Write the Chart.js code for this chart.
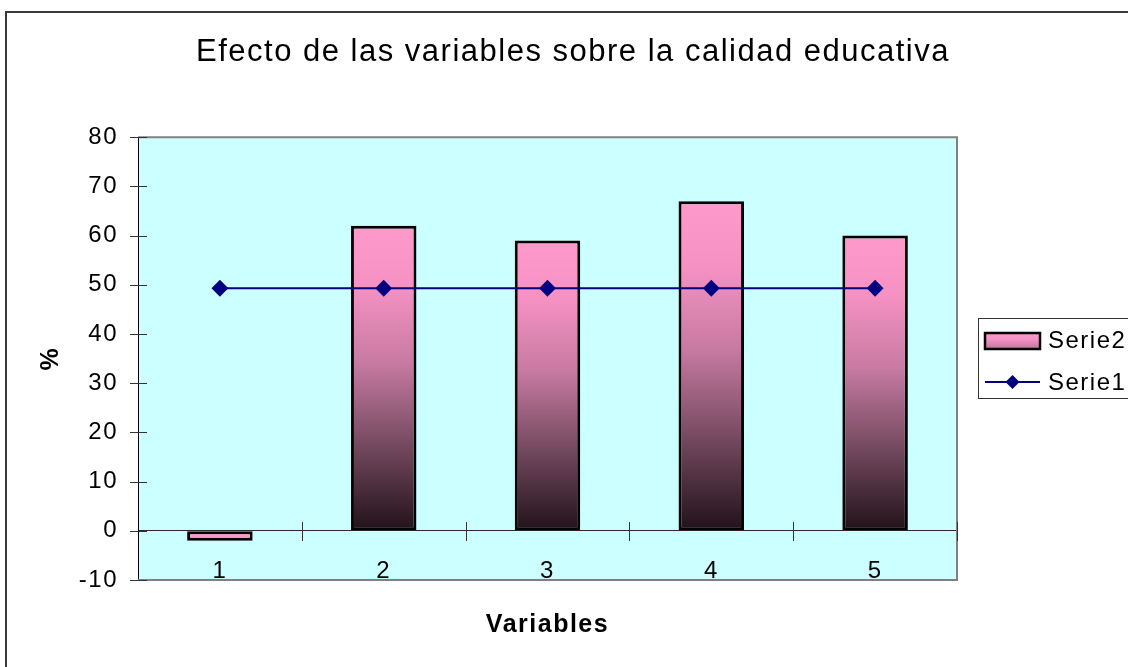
<!DOCTYPE html>
<html>
<head>
<meta charset="utf-8">
<title>Efecto de las variables sobre la calidad educativa</title>
<script src="https://cdn.jsdelivr.net/npm/chart.js@4.4.1/dist/chart.umd.min.js"></script>
<style>
  html, body { margin: 0; padding: 0; background: #fff; }
  #wrap { width: 1128px; height: 667px; }
</style>
</head>
<body>
<div id="wrap"><canvas id="chart" width="1128" height="667"></canvas></div>
<script>
// Datos
const categorias = ["1", "2", "3", "4", "5"];
const serie2 = [-2, 62, 59, 67, 60];
const serie1 = [49.3, 49.3, 49.3, 49.3, 49.3];
const rangoY = [-10, 80];
const pasoY = 10;

// Colores y fuente
const FONT = "'Liberation Sans', Arial, sans-serif";
const PINK = "#FF99CC";
const NAVY = "#000080";
const PLOT_BG = "#CCFFFF";
const PLOT_EDGE = "#808080";

// Degradado rosa -> casi negro de las barras
function barGradient(ctx, top, bottom) {
  const g = ctx.createLinearGradient(0, top, 0, bottom);
  g.addColorStop(0, "#FF99CC");
  g.addColorStop(0.2, "#F592C3");
  g.addColorStop(0.45, "#C77AA2");
  g.addColorStop(0.7, "#7A4D64");
  g.addColorStop(1, "#211219");
  return g;
}

// Marco exterior, fondo del área de trazado, marcas de escala y leyenda
const excelLook = {
  id: "excelLook",
  beforeDraw(chart) {
    const { ctx, chartArea: a } = chart;
    ctx.save();
    ctx.fillStyle = "#fff";
    ctx.fillRect(0, 0, chart.width, chart.height);
    ctx.strokeStyle = "#3a3a3a";
    ctx.lineWidth = 2;
    ctx.strokeRect(6, 12, 1400, 1000);
    ctx.fillStyle = PLOT_BG;
    ctx.fillRect(a.left, a.top, a.right - a.left, a.bottom - a.top);
    ctx.restore();
    ctx.letterSpacing = "1.5px";
  },
  afterDraw(chart) {
    const { ctx, chartArea: a, scales } = chart;
    ctx.save();
    // borde gris (arriba, derecha, abajo)
    ctx.strokeStyle = PLOT_EDGE;
    ctx.lineWidth = 2;
    ctx.beginPath();
    ctx.moveTo(a.left, a.top);
    ctx.lineTo(a.right, a.top);
    ctx.lineTo(a.right, a.bottom);
    ctx.lineTo(a.left, a.bottom);
    ctx.stroke();

    // marcas cruzadas
    ctx.strokeStyle = "#333";
    ctx.lineWidth = 1;
    ctx.beginPath();
    scales.y.ticks.forEach((t) => {
      const py = Math.round(scales.y.getPixelForValue(t.value)) + 0.5;
      ctx.moveTo(a.left - 8, py);
      ctx.lineTo(a.left + 9, py);
    });
    const y0 = Math.round(scales.y.getPixelForValue(0));
    for (let i = 1; i <= categorias.length; i++) {
      const px = Math.round(scales.x.getPixelForValue(i - 0.5)) + 0.5;
      ctx.moveTo(px, y0 - 9);
      ctx.lineTo(px, y0 + 10);
    }
    ctx.stroke();

    // leyenda
    const ds = chart.data.datasets;
    ctx.strokeStyle = "#333";
    ctx.lineWidth = 1;
    ctx.fillStyle = "#fff";
    ctx.fillRect(978.5, 318.5, 200, 80);
    ctx.strokeRect(978.5, 318.5, 200, 80);

    ctx.fillStyle = barGradient(ctx, 333, 365);
    ctx.fillRect(985, 333, 55, 16);
    ctx.strokeStyle = "#000";
    ctx.lineWidth = 2.5;
    ctx.strokeRect(985, 333, 55, 16);

    ctx.strokeStyle = NAVY;
    ctx.lineWidth = 2;
    ctx.beginPath();
    ctx.moveTo(985, 382);
    ctx.lineTo(1040, 382);
    ctx.stroke();
    ctx.fillStyle = NAVY;
    ctx.beginPath();
    ctx.moveTo(1012.5, 375);
    ctx.lineTo(1019.5, 382);
    ctx.lineTo(1012.5, 389);
    ctx.lineTo(1005.5, 382);
    ctx.closePath();
    ctx.fill();

    ctx.fillStyle = "#000";
    ctx.font = "24px " + FONT;
    ctx.textBaseline = "middle";
    ctx.textAlign = "left";
    ctx.fillText(ds[1].label, 1048, 341);
    ctx.fillText(ds[0].label, 1048, 383);
    ctx.restore();
    ctx.letterSpacing = "0px";
  }
};

const ctx = document.getElementById("chart").getContext("2d");

new Chart(ctx, {
  type: "bar",
  data: {
    labels: categorias,
    datasets: [
      {
        type: "line",
        label: "Serie1",
        data: serie1,
        order: 0,
        borderColor: NAVY,
        borderWidth: 2,
        tension: 0,
        fill: false,
        pointStyle: "rectRot",
        pointRadius: 7,
        pointHoverRadius: 7,
        pointBackgroundColor: NAVY,
        pointBorderColor: NAVY
      },
      {
        type: "bar",
        label: "Serie2",
        data: serie2,
        order: 1,
        backgroundColor: (c) => {
          const chart = c.chart;
          if (!chart.chartArea || c.type !== "data") return PINK;
          const y = chart.scales.y;
          const v = c.raw;
          const top = y.getPixelForValue(Math.max(v, 0));
          const bottom = y.getPixelForValue(Math.min(v, 0));
          return barGradient(chart.ctx, top, Math.max(bottom, top + 50));
        },
        borderColor: "#000",
        borderWidth: 3,
        borderSkipped: false,
        barPercentage: 0.4,
        categoryPercentage: 1.0
      }
    ]
  },
  options: {
    responsive: false,
    devicePixelRatio: 1,
    animation: false,
    layout: { padding: { left: 18, right: 0, top: 0, bottom: 0 } },
    scales: {
      x: {
        type: "category",
        offset: true,
        grid: { display: false, drawTicks: false },
        border: { display: false },
        ticks: {
          color: "#000",
          font: { family: FONT, size: 24 },
          mirror: true,
          padding: -6
        },
        title: {
          display: true,
          text: "Variables",
          color: "#000",
          font: { family: FONT, size: 25, weight: "bold" },
          padding: { top: 0, bottom: 27 }
        },
        afterFit: (s) => { s.height = 87; }
      },
      y: {
        min: rangoY[0],
        max: rangoY[1],
        ticks: {
          stepSize: pasoY,
          color: "#000",
          font: { family: FONT, size: 24 },
          padding: 20
        },
        grid: {
          drawTicks: false,
          lineWidth: 1,
          color: (c) => (c.tick && c.tick.value === 0 ? "#2b2b2b" : "rgba(0,0,0,0)")
        },
        border: { display: true, color: "#000", width: 1 },
        title: {
          display: true,
          text: "%",
          color: "#000",
          font: { family: FONT, size: 25, weight: "bold" },
          padding: { top: 18, bottom: 0 }
        },
        afterFit: (s) => { s.width = 120; }
      },
      derecha: {
        type: "linear",
        position: "right",
        display: true,
        ticks: { display: false },
        grid: { display: false },
        border: { display: false },
        afterFit: (s) => { s.width = 171; }
      }
    },
    plugins: {
      legend: { display: false },
      tooltip: { enabled: false },
      title: {
        display: true,
        text: "Efecto de las variables sobre la calidad educativa",
        color: "#000",
        font: { family: FONT, size: 31, weight: "normal" },
        padding: { top: 34, bottom: 66 }
      }
    }
  },
  plugins: [excelLook]
});
</script>
</body>
</html>
